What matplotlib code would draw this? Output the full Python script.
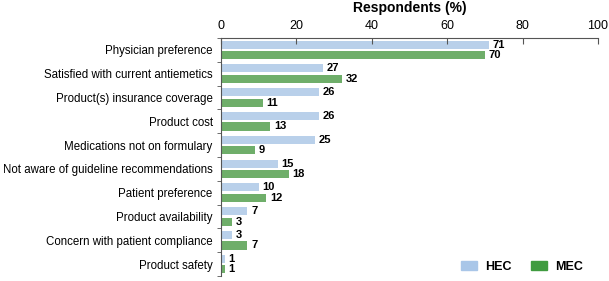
import numpy as np
import matplotlib.pyplot as plt
from matplotlib.patches import Patch

plt.rcParams['font.family'] = ['Liberation Sans', 'DejaVu Sans']

# 데이터
categories = ['Physician preference', 'Satisfied with current antiemetics',
              'Product(s) insurance coverage', 'Product cost',
              'Medications not on formulary', 'Not aware of guideline recommendations',
              'Patient preference', 'Product availability',
              'Concern with patient compliance', 'Product safety']
hec = [71, 27, 26, 26, 25, 15, 10, 7, 3, 1]
mec = [70, 32, 11, 13, 9, 18, 12, 3, 7, 1]

hec_color = '#b9d0ea'
mec_color = '#6fae6a'

fig = plt.figure(figsize=(6.09, 2.81), dpi=100)
ax = fig.add_axes([0.363, 0.018, 0.619, 0.847])

y = np.arange(len(categories))
h = 0.34
off = 0.22
ax.barh(y - off, hec, height=h, color=hec_color)
ax.barh(y + off, mec, height=h, color=mec_color)

for yi, v in zip(y, hec):
    ax.text(v + 1, yi - off, str(v), va='center', ha='left', fontsize=8, fontweight='bold')
for yi, v in zip(y, mec):
    ax.text(v + 1, yi + off, str(v), va='center', ha='left', fontsize=8, fontweight='bold')

ax.set_ylim(len(categories) - 0.5, -0.5)
ax.set_xlim(0, 100)

ax.xaxis.tick_top()
ax.xaxis.set_label_position('top')
ax.set_xticks([0, 20, 40, 60, 80, 100])
ax.tick_params(axis='x', direction='in', length=4, labelsize=9, pad=4, color='#555555')
ax.set_xlabel('Respondents (%)', fontsize=10, fontweight='bold', labelpad=6)

ax.set_yticks(y)
ax.set_yticklabels(categories, fontsize=8.3)
ax.set_yticks(np.arange(-0.5, len(categories), 1), minor=True)
ax.tick_params(axis='y', which='major', length=0, pad=6)
ax.tick_params(axis='y', which='minor', direction='out', length=3, color='#555555')

for s in ['right', 'bottom']:
    ax.spines[s].set_visible(False)
for s in ['left', 'top']:
    ax.spines[s].set_color('#555555')
    ax.spines[s].set_linewidth(0.8)

handles = [Patch(color='#a9c6e8', label='HEC'), Patch(color='#3f9b3f', label='MEC')]
leg = ax.legend(handles=handles, loc='lower right', ncol=2, frameon=False,
                prop={'size': 9, 'weight': 'bold'}, handlelength=1.25, handleheight=0.7,
                handletextpad=0.65, columnspacing=1.6, bbox_to_anchor=(0.99, -0.035))

fig.savefig('out.png', dpi=100)
